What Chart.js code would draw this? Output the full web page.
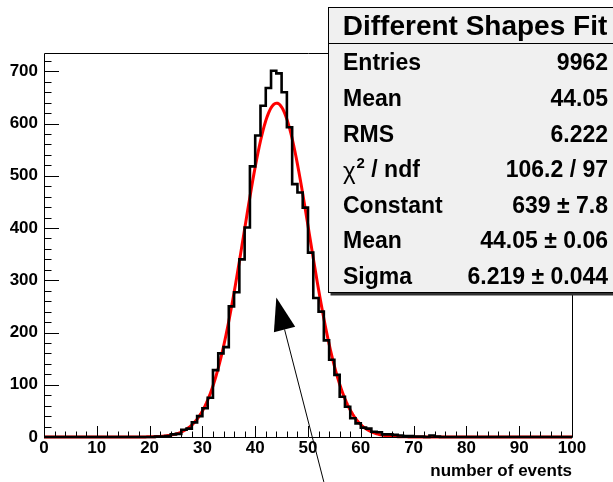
<!DOCTYPE html>
<html>
<head>
<meta charset="utf-8">
<script src="https://cdn.jsdelivr.net/npm/chart.js@4.4.1/dist/chart.umd.min.js"></script>
<style>
  html, body { margin:0; padding:0; background:#fff; }
  #wrap { width:613px; height:482px; }
</style>
</head>
<body>
<div id="wrap"><canvas id="hist" width="613" height="482"></canvas></div>
<script>
// histogram: 100 bins of width 1 on [0, 100]
const binLow = 0;
const binWidth = 1;
const binCounts = [
  0, 0, 0, 0, 0, 0, 0, 0, 0, 0,
  0, 0, 0, 0, 0, 0, 0, 0, 0, 0,
  0, 1, 1, 2, 5, 6, 14, 16, 28, 40,
  55, 75, 128, 160, 172, 250, 277, 340, 401, 518,
  577, 634, 668, 701, 696, 660, 593, 484, 468, 439,
  353, 266, 240, 185, 148, 119, 77, 58, 36, 26,
  18, 16, 10, 9, 5, 5, 4, 3, 2, 2,
  1, 1, 0, 3, 1, 0, 0, 0, 0, 0,
  0, 0, 0, 0, 0, 0, 0, 0, 0, 0,
  0, 0, 0, 0, 0, 0, 0, 0, 0, 0
];
const xTickValues = [0, 10, 20, 30, 40, 50, 60, 70, 80, 90, 100];
const yTickValues = [0, 100, 200, 300, 400, 500, 600, 700];
const xTitle = 'number of events';

// gaussian fit parameters (as printed in the stats box)
const fitConstant = 639;
const fitMean = 44.05;
const fitSigma = 6.219;

const statTitle = 'Different Shapes Fit';
const statLabels = ['Entries', 'Mean', 'RMS', 'chi2', 'Constant', 'Mean', 'Sigma'];
const statValues = ['9962', '44.05', '6.222', '106.2 / 97', '639 \u00b1 7.8', '44.05 \u00b1 0.06', '6.219 \u00b1 0.044'];

const FONT = '"Liberation Sans", Arial, Helvetica, sans-serif';

// outline points: one per bin low edge, plus the upper edge of the last bin.
// with stepped 'before' each value runs flat from its own x to the next one
const histPoints = binCounts.map((c, i) => ({x: binLow + i * binWidth, y: c}));
histPoints.push({x: binLow + binCounts.length * binWidth, y: binCounts[binCounts.length - 1]});

// fit function sampled across the axis range
const fitPoints = [];
for (let x = 0; x <= 100; x += 0.25) {
  const d = (x - fitMean) / fitSigma;
  fitPoints.push({x, y: fitConstant * Math.exp(-0.5 * d * d)});
}

// inner tick marks + frame, ROOT style
const frameTicks = {
  id: 'frameTicks',
  afterDatasetsDraw(chart) {
    const {ctx, chartArea: a, scales: {x, y}} = chart;
    ctx.save();
    ctx.strokeStyle = '#000';
    ctx.lineWidth = 1;
    ctx.beginPath();
    for (let v = 0; v <= 100; v += 2) {
      const px = Math.round(x.getPixelForValue(v)) + 0.5;
      const len = v % 10 === 0 ? 11 : 5.5;
      ctx.moveTo(px, a.bottom);
      ctx.lineTo(px, a.bottom - len);
    }
    for (let v = 0; v <= 720; v += 20) {
      const py = Math.round(y.getPixelForValue(v)) + 0.5;
      const len = v % 100 === 0 ? 15 : 7.5;
      ctx.moveTo(a.left, py);
      ctx.lineTo(a.left + len, py);
    }
    ctx.stroke();
    ctx.beginPath();
    ctx.rect(Math.round(a.left) + 0.5, Math.round(a.top) + 0.5,
             Math.round(a.right - a.left), Math.round(a.bottom - a.top));
    ctx.stroke();
    ctx.restore();
  }
};

// arrow and statistics box drawn on top
const overlay = {
  id: 'overlay',
  afterDraw(chart) {
    const {ctx, scales: {x, y}} = chart;
    ctx.save();

    // arrow from below the axis pointing at the peak
    const tx = x.getPixelForValue(44.0), ty = y.getPixelForValue(267);
    const ex = x.getPixelForValue(53.0), ey = y.getPixelForValue(-86);
    const L = Math.hypot(tx - ex, ty - ey);
    const ux = (tx - ex) / L, uy = (ty - ey) / L;
    const headLen = 33, headHalf = 11;
    const bx = tx - ux * headLen, by = ty - uy * headLen;
    ctx.strokeStyle = '#000';
    ctx.lineWidth = 1;
    ctx.beginPath();
    ctx.moveTo(ex, ey);
    ctx.lineTo(bx, by);
    ctx.stroke();
    ctx.fillStyle = '#000';
    ctx.beginPath();
    ctx.moveTo(tx, ty);
    ctx.lineTo(bx - uy * headHalf, by + ux * headHalf);
    ctx.lineTo(bx + uy * headHalf, by - ux * headHalf);
    ctx.closePath();
    ctx.fill();

    // stats box with a thin drop shadow
    const bx0 = 328.5, by0 = 7.5, bw = 300, bh = 285;
    const rowH = bh / 8;
    ctx.fillStyle = '#333';
    ctx.fillRect(bx0 + 2, by0 + 2, bw, bh + 1);
    ctx.fillStyle = '#f0f0f0';
    ctx.fillRect(bx0, by0, bw, bh);
    ctx.strokeStyle = '#000';
    ctx.lineWidth = 1;
    ctx.strokeRect(bx0, by0, bw, bh);
    ctx.beginPath();
    ctx.moveTo(bx0, Math.round(by0 + rowH) + 0.5);
    ctx.lineTo(bx0 + bw, Math.round(by0 + rowH) + 0.5);
    ctx.stroke();

    ctx.fillStyle = '#000';
    ctx.textBaseline = 'middle';
    ctx.textAlign = 'center';
    ctx.font = 'bold 28px ' + FONT;
    ctx.fillText(statTitle, 475, by0 + rowH / 2 + 2);

    const lx = 343, rx = 608;
    statLabels.forEach((lab, i) => {
      const cy = by0 + rowH * (i + 1.5) + 3;
      ctx.textAlign = 'left';
      if (lab === 'chi2') {
        ctx.font = '24px ' + FONT;
        ctx.fillText('\u03c7', lx, cy + 2);
        let w = ctx.measureText('\u03c7').width;
        ctx.font = 'bold 15px ' + FONT;
        ctx.fillText('2', lx + w + 1, cy - 7);
        w += ctx.measureText('2').width + 1;
        ctx.font = 'bold 23px ' + FONT;
        ctx.fillText(' / ndf', lx + w, cy);
      } else {
        ctx.font = 'bold 23px ' + FONT;
        ctx.fillText(lab, lx, cy);
      }
      ctx.font = 'bold 23px ' + FONT;
      ctx.textAlign = 'right';
      ctx.fillText(statValues[i], rx, cy);
    });
    ctx.restore();
  }
};

new Chart(document.getElementById('hist'), {
  type: 'line',
  data: {
    datasets: [
      {
        label: 'histogram',
        data: histPoints,
        stepped: 'before',
        borderColor: '#000',
        borderWidth: 2.6,
        pointRadius: 0,
        fill: false,
        clip: 4
      },
      {
        label: 'fit',
        data: fitPoints,
        borderColor: '#ff0000',
        borderWidth: 3,
        pointRadius: 0,
        tension: 0,
        fill: false,
        clip: 4
      }
    ]
  },
  options: {
    responsive: false,
    animation: false,
    devicePixelRatio: 1,
    layout: {padding: {top: 53, right: 41, left: 0, bottom: 0}},
    plugins: {legend: {display: false}, tooltip: {enabled: false}},
    scales: {
      x: {
        type: 'linear',
        min: 0,
        max: 100,
        afterBuildTicks: s => { s.ticks = xTickValues.map(v => ({value: v})); },
        afterFit: s => { s.height = 45; },
        grid: {display: false, drawTicks: false},
        border: {display: false},
        ticks: {
          autoSkip: false,
          maxRotation: 0,
          padding: 1,
          color: '#000',
          font: {family: FONT, size: 17, weight: 'bold'}
        },
        title: {
          display: true,
          text: xTitle,
          align: 'end',
          color: '#000',
          padding: {top: 5, bottom: 0},
          font: {family: FONT, size: 17, weight: 'bold'}
        }
      },
      y: {
        min: 0,
        max: 735,
        afterBuildTicks: s => { s.ticks = yTickValues.map(v => ({value: v})); },
        afterFit: s => { s.width = 44; },
        grid: {display: false, drawTicks: false},
        border: {display: false},
        ticks: {
          autoSkip: false,
          padding: 6,
          color: '#000',
          font: {family: FONT, size: 17, weight: 'bold'}
        }
      }
    }
  },
  plugins: [frameTicks, overlay]
});
</script>
</body>
</html>
